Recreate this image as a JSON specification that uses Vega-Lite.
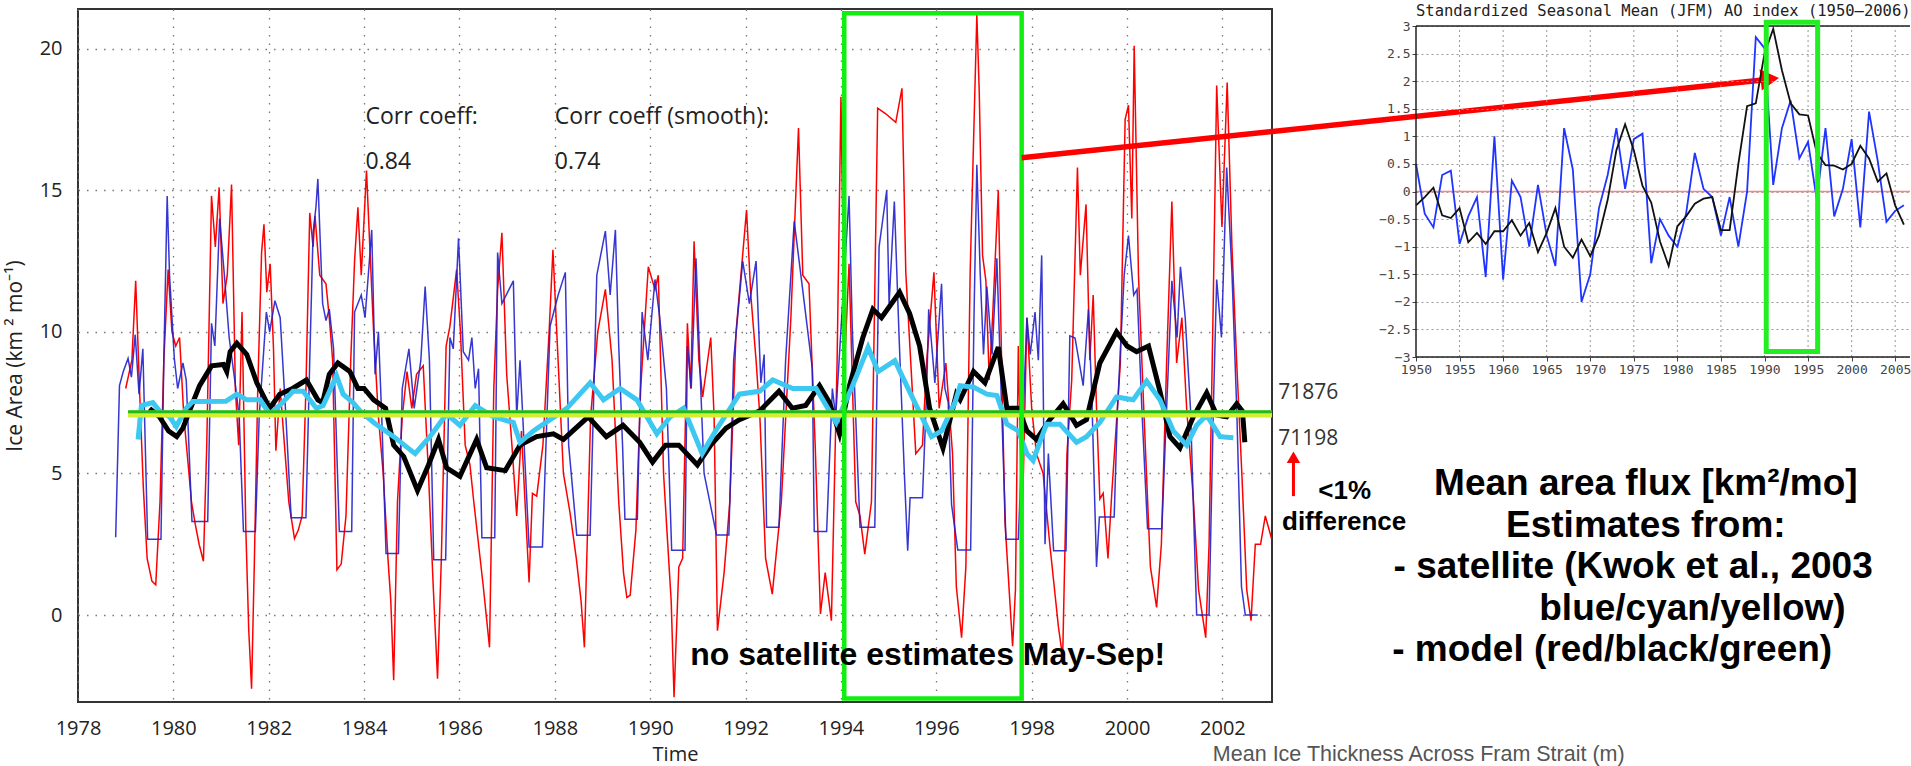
{
"$schema": "https://vega.github.io/schema/vega-lite/v6.json",
"background": "white",
"padding": {"left": 3, "top": 4, "right": 0, "bottom": 0},
"bounds": "flush",
"spacing": 144,
"datasets": {
"red": [{"t":1979.0,"v":8.0},{"t":1979.13,"v":9.0},{"t":1979.21,"v":11.8},{"t":1979.29,"v":8.0},{"t":1979.37,"v":4.5},{"t":1979.45,"v":2.0},{"t":1979.55,"v":1.2},{"t":1979.63,"v":1.07},{"t":1979.72,"v":4.0},{"t":1979.8,"v":9.0},{"t":1979.89,"v":12.2},{"t":1979.97,"v":10.0},{"t":1980.05,"v":9.5},{"t":1980.13,"v":9.8},{"t":1980.22,"v":7.0},{"t":1980.3,"v":5.5},{"t":1980.38,"v":4.0},{"t":1980.46,"v":3.2},{"t":1980.54,"v":2.5},{"t":1980.63,"v":1.9},{"t":1980.7,"v":6.0},{"t":1980.8,"v":14.8},{"t":1980.88,"v":13.0},{"t":1980.96,"v":15.1},{"t":1981.04,"v":11.0},{"t":1981.13,"v":12.0},{"t":1981.22,"v":15.2},{"t":1981.3,"v":8.0},{"t":1981.37,"v":6.0},{"t":1981.44,"v":10.7},{"t":1981.52,"v":3.0},{"t":1981.58,"v":-0.5},{"t":1981.64,"v":-2.6},{"t":1981.7,"v":2.0},{"t":1981.77,"v":8.0},{"t":1981.85,"v":12.8},{"t":1981.9,"v":13.8},{"t":1981.96,"v":11.4},{"t":1982.03,"v":12.4},{"t":1982.1,"v":9.4},{"t":1982.15,"v":5.8},{"t":1982.24,"v":8.0},{"t":1982.33,"v":6.0},{"t":1982.42,"v":4.0},{"t":1982.54,"v":2.7},{"t":1982.62,"v":3.0},{"t":1982.7,"v":3.5},{"t":1982.78,"v":8.0},{"t":1982.86,"v":14.2},{"t":1982.93,"v":13.0},{"t":1982.97,"v":14.1},{"t":1983.07,"v":12.0},{"t":1983.2,"v":11.7},{"t":1983.27,"v":10.5},{"t":1983.34,"v":9.0},{"t":1983.43,"v":1.6},{"t":1983.52,"v":1.8},{"t":1983.62,"v":3.5},{"t":1983.72,"v":9.0},{"t":1983.8,"v":12.5},{"t":1983.87,"v":14.4},{"t":1983.94,"v":12.0},{"t":1984.0,"v":14.0},{"t":1984.05,"v":15.7},{"t":1984.12,"v":13.0},{"t":1984.2,"v":10.0},{"t":1984.3,"v":7.0},{"t":1984.4,"v":5.0},{"t":1984.5,"v":2.0},{"t":1984.56,"v":0.5},{"t":1984.62,"v":-2.3},{"t":1984.7,"v":4.0},{"t":1984.8,"v":7.0},{"t":1984.9,"v":8.6},{"t":1985.0,"v":7.3},{"t":1985.1,"v":8.5},{"t":1985.24,"v":8.8},{"t":1985.35,"v":5.0},{"t":1985.45,"v":1.0},{"t":1985.54,"v":-2.25},{"t":1985.62,"v":2.0},{"t":1985.72,"v":9.5},{"t":1985.8,"v":10.2},{"t":1985.94,"v":12.2},{"t":1986.02,"v":10.0},{"t":1986.12,"v":6.0},{"t":1986.22,"v":5.3},{"t":1986.3,"v":4.0},{"t":1986.4,"v":2.5},{"t":1986.5,"v":1.0},{"t":1986.63,"v":-1.14},{"t":1986.72,"v":8.0},{"t":1986.8,"v":11.5},{"t":1986.89,"v":13.5},{"t":1986.99,"v":8.5},{"t":1987.1,"v":6.0},{"t":1987.2,"v":3.5},{"t":1987.3,"v":6.5},{"t":1987.46,"v":1.15},{"t":1987.53,"v":4.3},{"t":1987.62,"v":4.2},{"t":1987.75,"v":6.0},{"t":1987.88,"v":10.0},{"t":1987.96,"v":12.9},{"t":1988.04,"v":10.0},{"t":1988.18,"v":5.0},{"t":1988.32,"v":3.6},{"t":1988.45,"v":2.0},{"t":1988.55,"v":0.5},{"t":1988.62,"v":-1.14},{"t":1988.75,"v":7.0},{"t":1988.9,"v":10.0},{"t":1989.06,"v":11.5},{"t":1989.2,"v":9.0},{"t":1989.34,"v":4.0},{"t":1989.44,"v":1.5},{"t":1989.51,"v":0.62},{"t":1989.58,"v":0.7},{"t":1989.7,"v":3.0},{"t":1989.8,"v":8.0},{"t":1989.96,"v":12.3},{"t":1990.1,"v":11.5},{"t":1990.17,"v":12.0},{"t":1990.28,"v":5.0},{"t":1990.35,"v":3.0},{"t":1990.44,"v":0.5},{"t":1990.5,"v":-2.9},{"t":1990.6,"v":1.7},{"t":1990.68,"v":2.0},{"t":1990.78,"v":10.3},{"t":1990.85,"v":8.0},{"t":1990.92,"v":13.2},{"t":1991.02,"v":9.0},{"t":1991.1,"v":7.7},{"t":1991.27,"v":9.8},{"t":1991.34,"v":7.0},{"t":1991.41,"v":-0.55},{"t":1991.55,"v":1.5},{"t":1991.67,"v":4.0},{"t":1991.8,"v":10.0},{"t":1992.02,"v":14.3},{"t":1992.11,"v":11.3},{"t":1992.22,"v":9.0},{"t":1992.3,"v":7.0},{"t":1992.42,"v":2.0},{"t":1992.56,"v":0.74},{"t":1992.75,"v":4.0},{"t":1992.95,"v":10.5},{"t":1993.11,"v":17.2},{"t":1993.2,"v":12.0},{"t":1993.33,"v":11.7},{"t":1993.46,"v":6.0},{"t":1993.57,"v":0.04},{"t":1993.67,"v":1.5},{"t":1993.8,"v":-0.2},{"t":1993.92,"v":9.0},{"t":1994.0,"v":18.3},{"t":1994.08,"v":9.0},{"t":1994.17,"v":12.4},{"t":1994.31,"v":4.0},{"t":1994.4,"v":3.5},{"t":1994.5,"v":2.15},{"t":1994.64,"v":4.0},{"t":1994.77,"v":17.9},{"t":1994.94,"v":17.7},{"t":1995.15,"v":17.4},{"t":1995.28,"v":18.6},{"t":1995.36,"v":12.1},{"t":1995.57,"v":5.7},{"t":1995.71,"v":6.0},{"t":1995.8,"v":9.0},{"t":1995.95,"v":12.1},{"t":1996.06,"v":7.3},{"t":1996.2,"v":8.9},{"t":1996.34,"v":5.7},{"t":1996.42,"v":1.0},{"t":1996.53,"v":-0.8},{"t":1996.62,"v":1.7},{"t":1996.71,"v":12.1},{"t":1996.85,"v":21.2},{"t":1996.9,"v":18.5},{"t":1996.97,"v":12.7},{"t":1997.04,"v":11.8},{"t":1997.11,"v":8.3},{"t":1997.18,"v":10.5},{"t":1997.3,"v":15.0},{"t":1997.37,"v":8.9},{"t":1997.44,"v":3.3},{"t":1997.6,"v":-1.1},{"t":1997.66,"v":0.9},{"t":1997.72,"v":9.5},{"t":1997.8,"v":3.0},{"t":1997.9,"v":10.5},{"t":1998.0,"v":7.3},{"t":1998.1,"v":5.7},{"t":1998.24,"v":5.0},{"t":1998.38,"v":2.5},{"t":1998.56,"v":-0.4},{"t":1998.65,"v":-1.5},{"t":1998.74,"v":5.7},{"t":1998.84,"v":8.3},{"t":1998.96,"v":15.8},{"t":1999.02,"v":12.0},{"t":1999.14,"v":14.5},{"t":1999.22,"v":9.0},{"t":1999.29,"v":11.3},{"t":1999.36,"v":7.3},{"t":1999.43,"v":4.1},{"t":1999.5,"v":4.3},{"t":1999.6,"v":2.0},{"t":1999.68,"v":4.3},{"t":1999.86,"v":8.9},{"t":1999.96,"v":17.5},{"t":2000.03,"v":18.0},{"t":2000.1,"v":14.0},{"t":2000.15,"v":20.1},{"t":2000.24,"v":12.0},{"t":2000.35,"v":7.3},{"t":2000.49,"v":1.7},{"t":2000.62,"v":0.27},{"t":2000.72,"v":2.5},{"t":2000.83,"v":8.9},{"t":2000.94,"v":14.6},{"t":2001.04,"v":8.9},{"t":2001.15,"v":10.5},{"t":2001.25,"v":7.3},{"t":2001.39,"v":4.1},{"t":2001.5,"v":0.9},{"t":2001.65,"v":-0.8},{"t":2001.72,"v":2.5},{"t":2001.81,"v":11.3},{"t":2001.88,"v":18.7},{"t":2001.99,"v":13.7},{"t":2002.1,"v":18.8},{"t":2002.2,"v":13.0},{"t":2002.3,"v":8.9},{"t":2002.41,"v":4.9},{"t":2002.51,"v":0.9},{"t":2002.6,"v":-0.2},{"t":2002.69,"v":2.5},{"t":2002.8,"v":2.5},{"t":2002.9,"v":3.5},{"t":2003.03,"v":2.7}],
"blue": [{"t":1978.79,"v":2.75},{"t":1978.87,"v":8.1},{"t":1978.95,"v":8.6},{"t":1979.05,"v":9.06},{"t":1979.12,"v":8.4},{"t":1979.2,"v":9.9},{"t":1979.28,"v":7.8},{"t":1979.36,"v":9.4},{"t":1979.46,"v":2.68},{"t":1979.74,"v":2.68},{"t":1979.8,"v":9.0},{"t":1979.87,"v":14.8},{"t":1979.92,"v":12.0},{"t":1980.02,"v":9.06},{"t":1980.09,"v":8.0},{"t":1980.2,"v":8.9},{"t":1980.27,"v":8.3},{"t":1980.39,"v":3.3},{"t":1980.72,"v":3.3},{"t":1980.8,"v":10.3},{"t":1980.87,"v":9.5},{"t":1980.97,"v":14.0},{"t":1981.07,"v":12.0},{"t":1981.17,"v":9.8},{"t":1981.31,"v":8.0},{"t":1981.38,"v":7.0},{"t":1981.47,"v":2.95},{"t":1981.72,"v":2.95},{"t":1981.8,"v":7.0},{"t":1981.95,"v":10.7},{"t":1982.02,"v":10.0},{"t":1982.13,"v":11.1},{"t":1982.24,"v":10.5},{"t":1982.36,"v":7.0},{"t":1982.47,"v":3.44},{"t":1982.78,"v":3.44},{"t":1982.86,"v":9.0},{"t":1982.93,"v":13.5},{"t":1982.99,"v":14.4},{"t":1983.03,"v":15.4},{"t":1983.13,"v":11.0},{"t":1983.2,"v":10.4},{"t":1983.27,"v":10.8},{"t":1983.36,"v":9.4},{"t":1983.48,"v":2.95},{"t":1983.74,"v":2.95},{"t":1983.8,"v":10.7},{"t":1983.94,"v":11.3},{"t":1984.02,"v":10.5},{"t":1984.16,"v":13.6},{"t":1984.23,"v":8.5},{"t":1984.3,"v":10.0},{"t":1984.37,"v":7.0},{"t":1984.46,"v":2.17},{"t":1984.72,"v":2.17},{"t":1984.8,"v":8.0},{"t":1984.94,"v":9.4},{"t":1985.05,"v":7.3},{"t":1985.19,"v":9.0},{"t":1985.28,"v":11.6},{"t":1985.37,"v":9.0},{"t":1985.46,"v":1.95},{"t":1985.71,"v":1.95},{"t":1985.8,"v":9.8},{"t":1985.87,"v":9.4},{"t":1985.98,"v":13.3},{"t":1986.08,"v":9.3},{"t":1986.19,"v":9.0},{"t":1986.26,"v":9.8},{"t":1986.33,"v":8.0},{"t":1986.4,"v":8.7},{"t":1986.47,"v":2.73},{"t":1986.74,"v":2.73},{"t":1986.8,"v":12.8},{"t":1986.89,"v":11.0},{"t":1987.13,"v":11.8},{"t":1987.2,"v":7.0},{"t":1987.27,"v":9.0},{"t":1987.46,"v":2.4},{"t":1987.74,"v":2.4},{"t":1987.9,"v":10.2},{"t":1988.07,"v":11.3},{"t":1988.22,"v":12.1},{"t":1988.29,"v":6.0},{"t":1988.46,"v":2.82},{"t":1988.74,"v":2.82},{"t":1988.88,"v":12.0},{"t":1989.06,"v":13.56},{"t":1989.16,"v":11.3},{"t":1989.27,"v":13.6},{"t":1989.34,"v":9.5},{"t":1989.42,"v":6.0},{"t":1989.47,"v":3.38},{"t":1989.73,"v":3.38},{"t":1989.83,"v":10.7},{"t":1989.95,"v":9.0},{"t":1990.1,"v":11.85},{"t":1990.2,"v":10.5},{"t":1990.34,"v":8.0},{"t":1990.45,"v":2.29},{"t":1990.73,"v":2.29},{"t":1990.78,"v":9.5},{"t":1990.86,"v":8.0},{"t":1990.96,"v":12.6},{"t":1991.06,"v":8.0},{"t":1991.13,"v":5.0},{"t":1991.39,"v":2.83},{"t":1991.65,"v":2.83},{"t":1991.75,"v":9.0},{"t":1991.94,"v":12.5},{"t":1992.08,"v":11.0},{"t":1992.22,"v":12.5},{"t":1992.32,"v":8.2},{"t":1992.39,"v":9.2},{"t":1992.44,"v":3.1},{"t":1992.7,"v":3.1},{"t":1992.84,"v":9.0},{"t":1993.02,"v":13.9},{"t":1993.16,"v":12.0},{"t":1993.4,"v":8.7},{"t":1993.44,"v":2.95},{"t":1993.7,"v":2.95},{"t":1993.82,"v":8.0},{"t":1993.89,"v":7.0},{"t":1994.17,"v":14.8},{"t":1994.24,"v":10.0},{"t":1994.4,"v":3.1},{"t":1994.71,"v":3.1},{"t":1994.8,"v":13.0},{"t":1994.96,"v":15.0},{"t":1995.01,"v":11.0},{"t":1995.12,"v":14.6},{"t":1995.22,"v":9.8},{"t":1995.33,"v":5.0},{"t":1995.4,"v":2.27},{"t":1995.45,"v":4.14},{"t":1995.71,"v":4.14},{"t":1995.8,"v":8.0},{"t":1995.84,"v":10.8},{"t":1995.97,"v":8.2},{"t":1996.11,"v":11.7},{"t":1996.18,"v":8.0},{"t":1996.25,"v":7.5},{"t":1996.32,"v":3.9},{"t":1996.45,"v":2.3},{"t":1996.72,"v":2.3},{"t":1996.79,"v":10.5},{"t":1996.85,"v":15.9},{"t":1996.92,"v":12.1},{"t":1996.99,"v":9.2},{"t":1997.06,"v":11.6},{"t":1997.17,"v":9.2},{"t":1997.27,"v":12.6},{"t":1997.37,"v":7.3},{"t":1997.46,"v":2.68},{"t":1997.72,"v":2.68},{"t":1997.9,"v":10.5},{"t":1997.97,"v":9.2},{"t":1998.07,"v":10.7},{"t":1998.14,"v":9.0},{"t":1998.21,"v":12.7},{"t":1998.28,"v":2.5},{"t":1998.35,"v":5.7},{"t":1998.46,"v":2.27},{"t":1998.72,"v":2.27},{"t":1998.8,"v":9.86},{"t":1998.91,"v":9.78},{"t":1999.08,"v":8.1},{"t":1999.19,"v":10.8},{"t":1999.26,"v":7.8},{"t":1999.36,"v":1.7},{"t":1999.42,"v":3.46},{"t":1999.73,"v":3.46},{"t":1999.8,"v":7.3},{"t":1999.94,"v":12.0},{"t":2000.03,"v":13.4},{"t":2000.14,"v":11.3},{"t":2000.21,"v":11.5},{"t":2000.31,"v":7.3},{"t":2000.43,"v":3.05},{"t":2000.73,"v":3.05},{"t":2000.83,"v":7.3},{"t":2000.94,"v":11.8},{"t":2001.05,"v":9.8},{"t":2001.12,"v":12.3},{"t":2001.22,"v":10.5},{"t":2001.33,"v":7.3},{"t":2001.46,"v":0.0},{"t":2001.72,"v":0.0},{"t":2001.81,"v":7.3},{"t":2001.88,"v":11.85},{"t":2001.98,"v":9.8},{"t":2002.09,"v":15.8},{"t":2002.2,"v":12.1},{"t":2002.3,"v":7.3},{"t":2002.4,"v":1.0},{"t":2002.48,"v":0.0},{"t":2002.74,"v":0.0}],
"black": [{"t":1979.5,"v":7.3},{"t":1979.71,"v":7.0},{"t":1979.9,"v":6.5},{"t":1980.07,"v":6.3},{"t":1980.2,"v":6.6},{"t":1980.36,"v":7.3},{"t":1980.55,"v":8.1},{"t":1980.8,"v":8.8},{"t":1981.05,"v":8.85},{"t":1981.12,"v":8.6},{"t":1981.19,"v":9.3},{"t":1981.33,"v":9.6},{"t":1981.54,"v":9.2},{"t":1981.75,"v":8.2},{"t":1982.02,"v":7.3},{"t":1982.23,"v":7.8},{"t":1982.5,"v":8.0},{"t":1982.79,"v":8.3},{"t":1983.03,"v":7.6},{"t":1983.13,"v":7.5},{"t":1983.27,"v":8.5},{"t":1983.45,"v":8.9},{"t":1983.7,"v":8.6},{"t":1983.87,"v":8.0},{"t":1984.0,"v":8.0},{"t":1984.2,"v":7.6},{"t":1984.45,"v":7.3},{"t":1984.62,"v":6.0},{"t":1984.83,"v":5.6},{"t":1985.12,"v":4.4},{"t":1985.35,"v":5.3},{"t":1985.56,"v":6.2},{"t":1985.73,"v":5.2},{"t":1986.01,"v":4.9},{"t":1986.36,"v":6.2},{"t":1986.57,"v":5.2},{"t":1986.96,"v":5.1},{"t":1987.27,"v":6.0},{"t":1987.62,"v":6.3},{"t":1987.97,"v":6.4},{"t":1988.18,"v":6.2},{"t":1988.7,"v":7.0},{"t":1989.08,"v":6.3},{"t":1989.43,"v":6.7},{"t":1989.78,"v":6.1},{"t":1990.05,"v":5.4},{"t":1990.32,"v":6.0},{"t":1990.6,"v":6.0},{"t":1990.99,"v":5.3},{"t":1991.27,"v":6.0},{"t":1991.59,"v":6.6},{"t":1991.87,"v":6.9},{"t":1992.29,"v":7.2},{"t":1992.7,"v":7.9},{"t":1992.98,"v":7.3},{"t":1993.26,"v":7.4},{"t":1993.55,"v":8.1},{"t":1993.76,"v":7.5},{"t":1993.97,"v":6.4},{"t":1994.18,"v":8.1},{"t":1994.46,"v":9.8},{"t":1994.67,"v":10.8},{"t":1994.85,"v":10.5},{"t":1995.23,"v":11.4},{"t":1995.44,"v":10.65},{"t":1995.65,"v":9.5},{"t":1995.86,"v":7.3},{"t":1996.14,"v":5.9},{"t":1996.42,"v":7.8},{"t":1996.5,"v":7.6},{"t":1996.78,"v":8.6},{"t":1997.02,"v":8.2},{"t":1997.3,"v":9.46},{"t":1997.48,"v":7.3},{"t":1997.72,"v":7.3},{"t":1997.9,"v":6.5},{"t":1998.1,"v":6.2},{"t":1998.38,"v":6.9},{"t":1998.66,"v":7.46},{"t":1998.94,"v":6.7},{"t":1999.15,"v":6.9},{"t":1999.43,"v":8.9},{"t":1999.78,"v":10.0},{"t":2000.0,"v":9.5},{"t":2000.2,"v":9.3},{"t":2000.45,"v":9.5},{"t":2000.69,"v":7.9},{"t":2000.9,"v":6.3},{"t":2001.11,"v":5.9},{"t":2001.39,"v":7.0},{"t":2001.67,"v":7.85},{"t":2001.88,"v":7.06},{"t":2002.09,"v":7.0},{"t":2002.3,"v":7.46},{"t":2002.42,"v":7.2},{"t":2002.47,"v":6.1}],
"cyan": [{"t":1979.26,"v":6.2},{"t":1979.33,"v":7.4},{"t":1979.57,"v":7.5},{"t":1979.71,"v":7.2},{"t":1979.92,"v":7.0},{"t":1980.06,"v":6.66},{"t":1980.27,"v":7.3},{"t":1980.41,"v":7.54},{"t":1981.1,"v":7.55},{"t":1981.33,"v":7.8},{"t":1981.54,"v":7.6},{"t":1981.82,"v":7.6},{"t":1982.02,"v":7.1},{"t":1982.23,"v":7.4},{"t":1982.51,"v":7.9},{"t":1982.72,"v":7.9},{"t":1983.0,"v":7.3},{"t":1983.14,"v":7.4},{"t":1983.42,"v":8.45},{"t":1983.56,"v":7.8},{"t":1983.77,"v":7.5},{"t":1983.92,"v":7.2},{"t":1984.2,"v":6.8},{"t":1984.62,"v":6.3},{"t":1985.07,"v":5.7},{"t":1985.38,"v":6.3},{"t":1985.73,"v":7.1},{"t":1986.01,"v":6.7},{"t":1986.33,"v":7.4},{"t":1986.71,"v":7.0},{"t":1987.13,"v":6.8},{"t":1987.27,"v":6.1},{"t":1987.55,"v":6.5},{"t":1987.9,"v":6.9},{"t":1988.25,"v":7.3},{"t":1988.74,"v":8.2},{"t":1989.02,"v":7.6},{"t":1989.37,"v":8.0},{"t":1989.72,"v":7.6},{"t":1990.14,"v":6.4},{"t":1990.42,"v":7.0},{"t":1990.7,"v":7.3},{"t":1991.09,"v":5.7},{"t":1991.37,"v":6.5},{"t":1991.87,"v":7.8},{"t":1992.29,"v":7.9},{"t":1992.57,"v":8.3},{"t":1992.99,"v":8.0},{"t":1993.48,"v":8.0},{"t":1993.9,"v":6.8},{"t":1994.22,"v":8.0},{"t":1994.57,"v":9.45},{"t":1994.78,"v":8.6},{"t":1995.13,"v":8.98},{"t":1995.55,"v":7.5},{"t":1995.9,"v":6.3},{"t":1996.11,"v":6.5},{"t":1996.39,"v":7.5},{"t":1996.5,"v":8.1},{"t":1996.78,"v":8.05},{"t":1997.06,"v":7.8},{"t":1997.27,"v":7.75},{"t":1997.48,"v":6.74},{"t":1997.72,"v":6.5},{"t":1997.9,"v":5.7},{"t":1998.03,"v":5.46},{"t":1998.31,"v":6.74},{"t":1998.59,"v":6.74},{"t":1998.94,"v":6.1},{"t":1999.15,"v":6.3},{"t":1999.43,"v":6.8},{"t":1999.78,"v":7.7},{"t":2000.13,"v":7.6},{"t":2000.41,"v":8.26},{"t":2000.69,"v":7.6},{"t":2000.97,"v":6.5},{"t":2001.25,"v":6.0},{"t":2001.46,"v":6.7},{"t":2001.67,"v":7.06},{"t":2001.95,"v":6.3},{"t":2002.23,"v":6.26}],
"aoBlue": [{"yr":1950,"val":0.5},{"yr":1951,"val":-0.4},{"yr":1952,"val":-0.65},{"yr":1953,"val":0.3},{"yr":1954,"val":0.38},{"yr":1955,"val":-0.95},{"yr":1956,"val":-0.45},{"yr":1957,"val":-0.1},{"yr":1958,"val":-1.55},{"yr":1959,"val":1.0},{"yr":1960,"val":-1.6},{"yr":1961,"val":0.2},{"yr":1962,"val":-0.1},{"yr":1963,"val":-1.0},{"yr":1964,"val":0.12},{"yr":1965,"val":-0.8},{"yr":1966,"val":-1.35},{"yr":1967,"val":1.15},{"yr":1968,"val":0.4},{"yr":1969,"val":-2.0},{"yr":1970,"val":-1.5},{"yr":1971,"val":-0.3},{"yr":1972,"val":0.3},{"yr":1973,"val":1.15},{"yr":1974,"val":0.05},{"yr":1975,"val":0.95},{"yr":1976,"val":1.05},{"yr":1977,"val":-1.3},{"yr":1978,"val":-0.5},{"yr":1979,"val":-0.8},{"yr":1980,"val":-1.0},{"yr":1981,"val":-0.4},{"yr":1982,"val":0.7},{"yr":1983,"val":0.05},{"yr":1984,"val":-0.1},{"yr":1985,"val":-0.8},{"yr":1986,"val":-0.1},{"yr":1987,"val":-1.0},{"yr":1988,"val":0.0},{"yr":1989,"val":2.8},{"yr":1990,"val":2.6},{"yr":1991,"val":0.12},{"yr":1992,"val":1.15},{"yr":1993,"val":1.65},{"yr":1994,"val":0.6},{"yr":1995,"val":0.9},{"yr":1996,"val":-0.15},{"yr":1997,"val":1.15},{"yr":1998,"val":-0.45},{"yr":1999,"val":0.05},{"yr":2000,"val":0.95},{"yr":2001,"val":-0.65},{"yr":2002,"val":1.45},{"yr":2003,"val":0.55},{"yr":2004,"val":-0.55},{"yr":2005,"val":-0.35},{"yr":2006,"val":-0.25}],
"aoBlack": [{"yr":1950,"val":-0.25},{"yr":1951,"val":-0.1},{"yr":1952,"val":0.07},{"yr":1953,"val":-0.43},{"yr":1954,"val":-0.48},{"yr":1955,"val":-0.3},{"yr":1956,"val":-0.92},{"yr":1957,"val":-0.75},{"yr":1958,"val":-0.95},{"yr":1959,"val":-0.72},{"yr":1960,"val":-0.72},{"yr":1961,"val":-0.52},{"yr":1962,"val":-0.8},{"yr":1963,"val":-0.57},{"yr":1964,"val":-1.1},{"yr":1965,"val":-0.75},{"yr":1966,"val":-0.3},{"yr":1967,"val":-1.0},{"yr":1968,"val":-1.2},{"yr":1969,"val":-0.87},{"yr":1970,"val":-1.17},{"yr":1971,"val":-0.8},{"yr":1972,"val":-0.15},{"yr":1973,"val":0.75},{"yr":1974,"val":1.22},{"yr":1975,"val":0.75},{"yr":1976,"val":0.1},{"yr":1977,"val":-0.2},{"yr":1978,"val":-0.9},{"yr":1979,"val":-1.35},{"yr":1980,"val":-0.63},{"yr":1981,"val":-0.45},{"yr":1982,"val":-0.22},{"yr":1983,"val":-0.13},{"yr":1984,"val":-0.1},{"yr":1985,"val":-0.7},{"yr":1986,"val":-0.7},{"yr":1987,"val":0.5},{"yr":1988,"val":1.55},{"yr":1989,"val":1.6},{"yr":1990,"val":2.5},{"yr":1991,"val":2.95},{"yr":1992,"val":2.2},{"yr":1993,"val":1.6},{"yr":1994,"val":1.4},{"yr":1995,"val":1.38},{"yr":1996,"val":0.7},{"yr":1997,"val":0.48},{"yr":1998,"val":0.47},{"yr":1999,"val":0.4},{"yr":2000,"val":0.5},{"yr":2001,"val":0.83},{"yr":2002,"val":0.6},{"yr":2003,"val":0.18},{"yr":2004,"val":0.33},{"yr":2005,"val":-0.25},{"yr":2006,"val":-0.6}]
},
"hconcat": [
{
"width": 1194,
"height": 693,
"view": {"stroke": "#333", "strokeWidth": 2},
"encoding": {
"x": {"field": "t", "type": "quantitative", "scale": {"domain": [1978, 2003.04], "nice": false, "zero": false},
"axis": {"title": "Time", "values": [1978,1980,1982,1984,1986,1988,1990,1992,1994,1996,1998,2000,2002], "format": "d", "labelFont": "Open Sans", "labelFontSize": 20, "labelColor": "#222", "labelPadding": 16, "labelFlush": false, "ticks": false, "domain": false, "grid": true, "gridColor": "#777", "gridDash": [1.5, 7], "gridWidth": 1.3, "titleFont": "Open Sans", "titleFontSize": 20, "titleFontWeight": "normal", "titleColor": "#222", "titlePadding": 6}},
"y": {"field": "v", "type": "quantitative", "scale": {"domain": [-3.07, 21.4], "nice": false, "zero": false},
"axis": {"title": "Ice Area (km  ² mo⁻¹)", "values": [0,5,10,15,20], "format": "d", "labelFont": "Open Sans", "labelFontSize": 20, "labelColor": "#222", "labelPadding": 16, "ticks": false, "domain": false, "grid": true, "gridColor": "#777", "gridDash": [1.5, 7], "gridWidth": 1.3, "titleFont": "Open Sans", "titleFontSize": 21, "titleFontWeight": "normal", "titleColor": "#222", "titlePadding": 14}}
},
"layer": [
{"data": {"name": "red"}, "mark": {"type": "line", "color": "#ff0000", "strokeWidth": 1.5}},
{"data": {"name": "blue"}, "mark": {"type": "line", "color": "#2020cc", "strokeWidth": 1.5, "opacity": 0.9}},
{"data": {"name": "black"}, "mark": {"type": "line", "color": "#000000", "strokeWidth": 5}},
{"data": {"name": "cyan"}, "mark": {"type": "line", "color": "#3cc8f0", "strokeWidth": 5}},
{"data": {"values": [{"t": 1979.05, "t2": 2003.04, "v": 7.1}]}, "mark": {"type": "rule", "color": "#d4ee30", "strokeWidth": 7}, "encoding": {"x2": {"field": "t2"}}},
{"data": {"values": [{"t": 1979.05, "t2": 2003.04, "v": 7.18}]}, "mark": {"type": "rule", "color": "#22b822", "strokeWidth": 3}, "encoding": {"x2": {"field": "t2"}}},
{"data": {"values": [{"t": 1994.07, "t2": 1997.79, "v": -2.95, "v2": 21.25}]}, "mark": {"type": "rect", "fillOpacity": 0, "stroke": "#11ee11", "strokeWidth": 4.5}, "encoding": {"x2": {"field": "t2"}, "y2": {"field": "v2"}}},
{"data": {"values": [{"t": 1997.79, "v": 16.15, "t2": 2013.48, "v2": 18.92}]}, "mark": {"type": "rule", "color": "#ff0000", "strokeWidth": 5.5}, "encoding": {"x2": {"field": "t2"}, "y2": {"field": "v2"}}},
{"data": {"values": [{"t": 2013.48, "v": 18.93}]}, "mark": {"type": "point", "shape": "triangle-right", "filled": true, "color": "#ff0000", "size": 450, "angle": -6, "opacity": 1}},
{"data": {"values": [{"t": 2003.49, "v": 4.2, "v2": 5.4}]}, "mark": {"type": "rule", "color": "#ff0000", "strokeWidth": 3}, "encoding": {"y2": {"field": "v2"}}},
{"data": {"values": [{"t": 2003.49, "v": 5.57}]}, "mark": {"type": "point", "shape": "triangle-up", "filled": true, "color": "#ff0000", "size": 180, "opacity": 1}},
{"data": {"values": [{"t": 1984.03, "v": 17.57, "label": "Corr coeff:"}, {"t": 1984.03, "v": 16.0, "label": "0.84"}, {"t": 1988.0, "v": 17.57, "label": "Corr coeff (smooth):"}, {"t": 1988.0, "v": 16.0, "label": "0.74"}]}, "mark": {"type": "text", "align": "left", "baseline": "middle", "font": "Open Sans", "fontSize": 23, "color": "#222"}, "encoding": {"text": {"field": "label"}}},
{"data": {"values": [{"t": 2003.17, "v": 7.85, "label": "71876"}, {"t": 2003.17, "v": 6.2, "label": "71198"}]}, "mark": {"type": "text", "align": "left", "baseline": "middle", "font": "Open Sans", "fontSize": 21, "color": "#333"}, "encoding": {"text": {"field": "label"}}},
{"data": {"values": [{"t": 2004.01, "v": 4.37, "label": "<1%"}, {"t": 2003.25, "v": 3.3, "label": "difference"}]}, "mark": {"type": "text", "align": "left", "baseline": "middle", "font": "Liberation Sans", "fontWeight": "bold", "fontSize": 26, "color": "#000"}, "encoding": {"text": {"field": "label"}}},
{"data": {"values": [{"t": 1990.84, "v": -1.42, "label": "no satellite estimates May-Sep!"}]}, "mark": {"type": "text", "align": "left", "baseline": "middle", "font": "Liberation Sans", "fontWeight": "bold", "fontSize": 32, "color": "#000"}, "encoding": {"text": {"field": "label"}}},
{"data": {"values": [{"t": 2010.88, "v": 4.61, "label": "Mean area flux [km²/mo]"}, {"t": 2010.88, "v": 3.14, "label": "Estimates from:"}]}, "mark": {"type": "text", "align": "center", "baseline": "middle", "font": "Liberation Sans", "fontWeight": "bold", "fontSize": 37, "color": "#000"}, "encoding": {"text": {"field": "label"}}},
{"data": {"values": [{"t": 2005.59, "v": 1.68, "label": "- satellite (Kwok et al., 2003"}, {"t": 2005.56, "v": -1.25, "label": "- model (red/black/green)"}]}, "mark": {"type": "text", "align": "left", "baseline": "middle", "font": "Liberation Sans", "fontWeight": "bold", "fontSize": 37, "color": "#000"}, "encoding": {"text": {"field": "label"}}},
{"data": {"values": [{"t": 2015.07, "v": 0.22, "label": "blue/cyan/yellow)"}]}, "mark": {"type": "text", "align": "right", "baseline": "middle", "font": "Liberation Sans", "fontWeight": "bold", "fontSize": 37, "color": "#000"}, "encoding": {"text": {"field": "label"}}},
{"data": {"values": [{"t": 2001.8, "v": -4.95, "label": "Mean Ice Thickness Across Fram Strait (m)"}]}, "mark": {"type": "text", "align": "left", "baseline": "middle", "font": "Liberation Sans", "fontSize": 21.5, "color": "#555"}, "encoding": {"text": {"field": "label"}}}
]
},
{
"width": 494,
"height": 348,
"view": {"stroke": null},
"encoding": {
"x": {"field": "yr", "type": "quantitative", "scale": {"domain": [1950, 2006.7], "nice": false, "zero": false}, "axis": {"title": null, "values": [1950,1955,1960,1965,1970,1975,1980,1985,1990,1995,2000,2005], "format": "d", "labelFont": "DejaVu Sans Mono", "labelFontSize": 13, "labelColor": "#444", "labelPadding": 2, "labelFlush": false, "tickSize": 4, "tickColor": "#444", "domain": false, "grid": false}},
"y": {"field": "val", "type": "quantitative", "scale": {"domain": [-3, 3.31], "nice": false, "zero": false}, "axis": {"title": null, "values": [-3,-2.5,-2,-1.5,-1,-0.5,0,0.5,1,1.5,2,2.5,3], "format": "~g", "labelFont": "DejaVu Sans Mono", "labelFontSize": 13, "labelColor": "#444", "labelPadding": 2, "labelFlush": false, "tickSize": 4, "tickColor": "#444", "domain": false, "grid": true, "gridColor": "#999", "gridDash": [2, 3]}}
},
"layer": [
{"data": {"values": [{"yr": 1955, "val": -3, "val2": 3}, {"yr": 1960, "val": -3, "val2": 3}, {"yr": 1965, "val": -3, "val2": 3}, {"yr": 1970, "val": -3, "val2": 3}, {"yr": 1975, "val": -3, "val2": 3}, {"yr": 1980, "val": -3, "val2": 3}, {"yr": 1985, "val": -3, "val2": 3}, {"yr": 1990, "val": -3, "val2": 3}, {"yr": 1995, "val": -3, "val2": 3}, {"yr": 2000, "val": -3, "val2": 3}, {"yr": 2005, "val": -3, "val2": 3}]}, "mark": {"type": "rule", "color": "#999", "strokeWidth": 1, "strokeDash": [2, 3]}, "encoding": {"y2": {"field": "val2"}}},
{"data": {"values": [{"yr": 1950, "yr2": 2006.7, "val": 0}]}, "mark": {"type": "rule", "color": "#ff8080", "strokeWidth": 1.5}, "encoding": {"x2": {"field": "yr2"}}},
{"data": {"name": "aoBlue"}, "mark": {"type": "line", "color": "#1f35ff", "strokeWidth": 1.8}},
{"data": {"name": "aoBlack"}, "mark": {"type": "line", "color": "#111111", "strokeWidth": 1.8}},
{"data": {"values": [{"yr": 1950, "yr2": 2006.7, "val": 3}, {"yr": 1950, "yr2": 2006.7, "val": -3}]}, "mark": {"type": "rule", "color": "#222", "strokeWidth": 1.5}, "encoding": {"x2": {"field": "yr2"}}},
{"data": {"values": [{"yr": 1950, "val": -3, "val2": 3}]}, "mark": {"type": "rule", "color": "#222", "strokeWidth": 1.5}, "encoding": {"y2": {"field": "val2"}}},
{"data": {"values": [{"yr": 1990.2, "yr2": 1996.1, "val": -2.9, "val2": 3.07}]}, "mark": {"type": "rect", "fillOpacity": 0, "stroke": "#22ee22", "strokeWidth": 5}, "encoding": {"x2": {"field": "yr2"}, "y2": {"field": "val2"}}},
{"data": {"values": [{"yr": 1950, "val": 3.267, "label": "Standardized Seasonal Mean (JFM) AO index (1950–2006)"}]}, "mark": {"type": "text", "align": "left", "baseline": "middle", "font": "DejaVu Sans Mono", "fontSize": 15.5, "color": "#222"}, "encoding": {"text": {"field": "label"}}}
]
}
]
}
